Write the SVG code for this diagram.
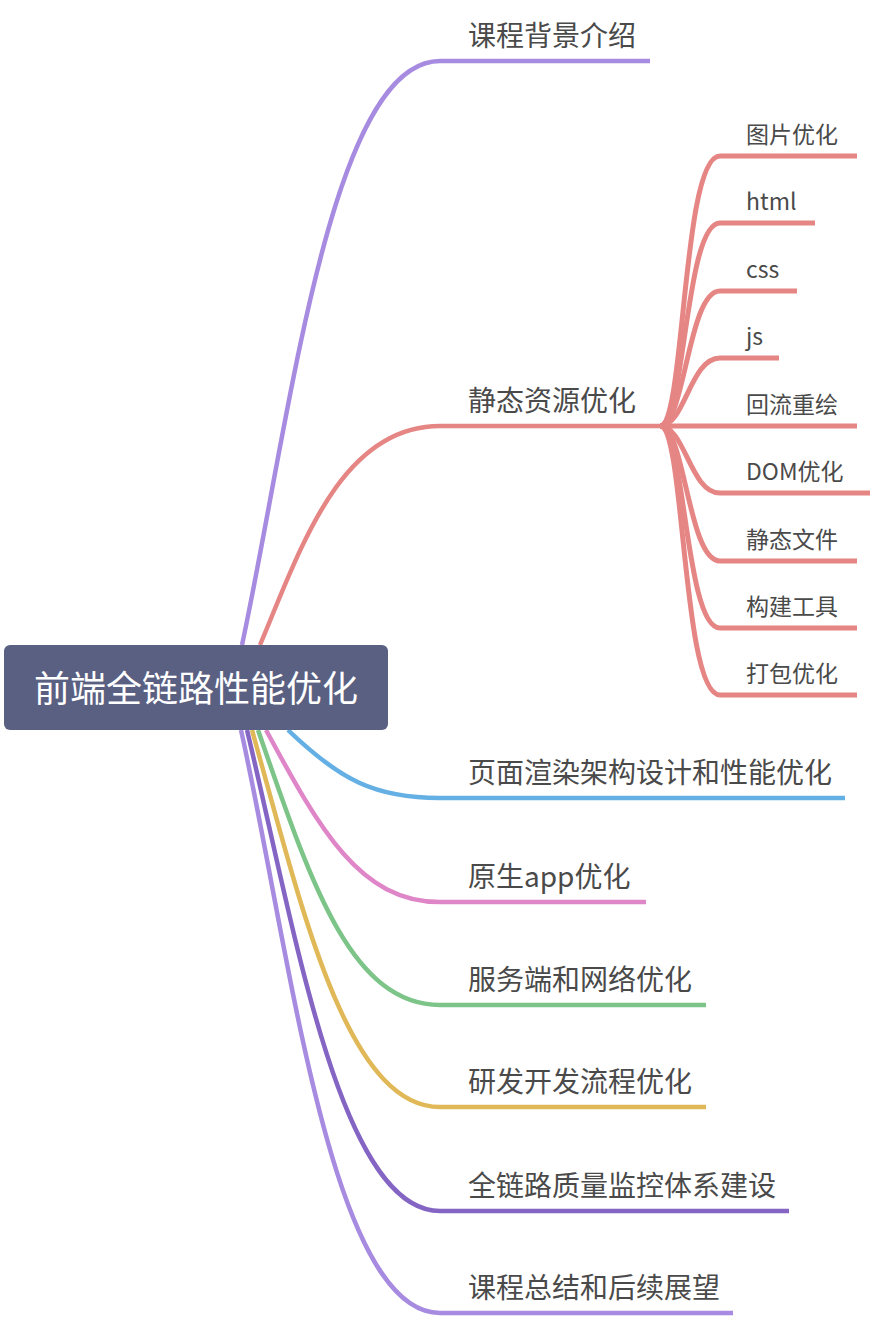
<svg xmlns="http://www.w3.org/2000/svg" width="874" height="1320" viewBox="0 0 874 1320">
<style>
.c{fill:none;stroke-linecap:butt;stroke-linejoin:round}
.m{stroke-width:4.5}
.s{stroke-width:5;stroke:#e58584}
.t{font-family:"Noto Sans CJK SC","Noto Sans",sans-serif;fill:#4a4a4a}
.t1{font-size:28px}
.t2{font-size:23px}
.root{font-family:"Noto Sans CJK SC","Noto Sans",sans-serif;font-size:36px;fill:#ffffff}
</style>
<rect width="874" height="1320" fill="#ffffff"/>
<g id="connectors">
<path class="c m" stroke="#a78be0" d="M242,645 C290,420 330,61 440,61 L650,61"/>
<path class="c m" stroke="#e58584" d="M260,645 C300,550 340,426 440,426 L660,426"/>
<path class="c m" stroke="#64afe4" d="M288,730 C340,780 375,798 440,798 L845,798"/>
<path class="c m" stroke="#df86c8" d="M266,730 C320,830 360,902 440,902 L646,902"/>
<path class="c m" stroke="#7cc487" d="M258,730 C310,880 350,1005 440,1005 L706,1005"/>
<path class="c m" stroke="#e0b858" d="M252,730 C300,900 345,1107 440,1107 L706,1107"/>
<path class="c m" stroke="#8565c4" d="M247,730 C295,930 340,1211 440,1211 L789,1211"/>
<path class="c m" stroke="#a78be0" d="M241,730 C290,950 330,1313 440,1313 L733,1313"/>
<path class="c s" d="M660,426 C685,426 682,156 720,156 L857,156"/>
<path class="c s" d="M660,426 C685,426 685,223 720,223 L815,223"/>
<path class="c s" d="M660,426 C685,426 688,291 720,291 L797,291"/>
<path class="c s" d="M660,426 C685,426 690,358 720,358 L779,358"/>
<path class="c s" d="M660,426 L857,426"/>
<path class="c s" d="M660,426 C685,426 690,493 720,493 L870,493"/>
<path class="c s" d="M660,426 C685,426 688,561 720,561 L857,561"/>
<path class="c s" d="M660,426 C685,426 685,628 720,628 L857,628"/>
<path class="c s" d="M660,426 C685,426 682,695 720,695 L857,695"/>
</g>
<g id="root">
<rect x="4" y="645" width="384" height="85" rx="6" fill="#5a6082"/>
<text class="root" x="196" y="702" text-anchor="middle">前端全链路性能优化</text>
</g>
<g id="n1"><text class="t t1" x="468" y="46">课程背景介绍</text></g>
<g id="n2"><text class="t t1" x="468" y="411">静态资源优化</text></g>
<g id="n2-1"><text class="t t2" x="746" y="143">图片优化</text></g>
<g id="n2-2"><text class="t t2" x="746" y="210">html</text></g>
<g id="n2-3"><text class="t t2" x="746" y="278">css</text></g>
<g id="n2-4"><text class="t t2" x="746" y="345">js</text></g>
<g id="n2-5"><text class="t t2" x="746" y="413">回流重绘</text></g>
<g id="n2-6"><text class="t t2" x="746" y="480">DOM优化</text></g>
<g id="n2-7"><text class="t t2" x="746" y="548">静态文件</text></g>
<g id="n2-8"><text class="t t2" x="746" y="615">构建工具</text></g>
<g id="n2-9"><text class="t t2" x="746" y="682">打包优化</text></g>
<g id="n3"><text class="t t1" x="468" y="783">页面渲染架构设计和性能优化</text></g>
<g id="n4"><text class="t t1" x="468" y="887">原生app优化</text></g>
<g id="n5"><text class="t t1" x="468" y="990">服务端和网络优化</text></g>
<g id="n6"><text class="t t1" x="468" y="1092">研发开发流程优化</text></g>
<g id="n7"><text class="t t1" x="468" y="1196">全链路质量监控体系建设</text></g>
<g id="n8"><text class="t t1" x="468" y="1298">课程总结和后续展望</text></g>
</svg>
